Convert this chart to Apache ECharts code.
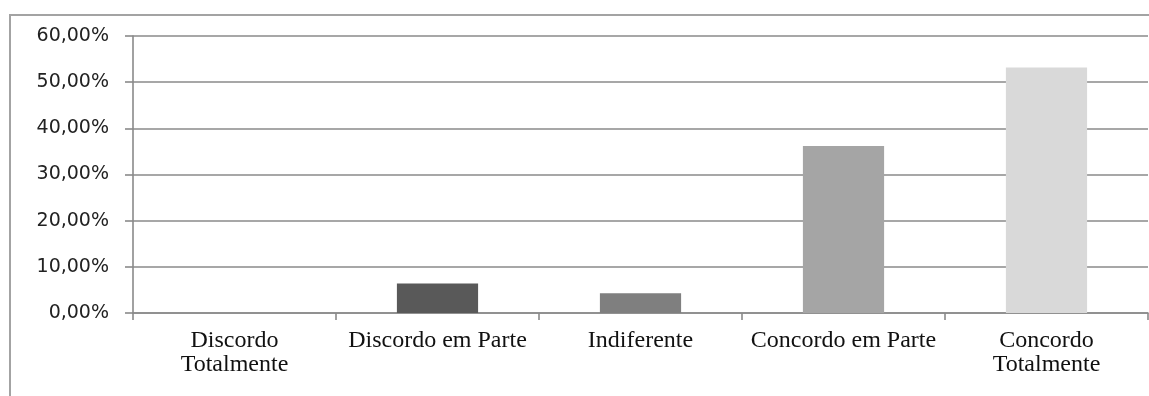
<!DOCTYPE html>
<html>
<head>
<meta charset="utf-8">
<script src="https://cdn.jsdelivr.net/npm/echarts@6/dist/echarts.min.js"></script>
<style>
  html, body { margin: 0; padding: 0; background: #ffffff; }
  #chart { width: 1149px; height: 396px; }
</style>
</head>
<body>
<div id="chart"></div>
<script>
// Survey answers (share of respondents, %)
const categories = ['Discordo\nTotalmente', 'Discordo em Parte', 'Indiferente', 'Concordo em Parte', 'Concordo\nTotalmente'];
const shares = [0, 6.38, 4.26, 36.17, 53.19];
const barColors = ['#3f3f3f', '#595959', '#7f7f7f', '#a5a5a5', '#d9d9d9'];
const yTicks = { min: 0, max: 60, interval: 10 };

const fmtPct = v => v.toFixed(2).replace('.', ',') + '%';

const chart = echarts.init(document.getElementById('chart'), null, { renderer: 'canvas' });

chart.setOption({
  animation: false,
  backgroundColor: '#ffffff',
  graphic: [{
    type: 'rect',
    silent: true,
    z: -1,
    shape: { x: 10, y: 15, width: 1300, height: 600 },
    style: { fill: 'none', stroke: '#a3a3a3', lineWidth: 2 }
  }],
  grid: { left: 133, right: 1, top: 36, bottom: 83, containLabel: false },
  xAxis: {
    type: 'category',
    data: categories,
    boundaryGap: true,
    axisLine: { show: true, lineStyle: { color: '#8a8a8a', width: 1.6 } },
    axisTick: { show: true, length: 7, alignWithLabel: false, lineStyle: { color: '#8a8a8a', width: 1.6 } },
    axisLabel: {
      interval: 0,
      margin: 16,
      color: '#111111',
      fontFamily: '"Liberation Serif", "Times New Roman", serif',
      fontSize: 24,
      lineHeight: 24,
      align: 'center'
    }
  },
  yAxis: {
    type: 'value',
    min: yTicks.min,
    max: yTicks.max,
    interval: yTicks.interval,
    axisLine: { show: true, lineStyle: { color: '#8a8a8a', width: 1.6 } },
    axisTick: { show: true, length: 8, lineStyle: { color: '#8a8a8a', width: 1.6 } },
    splitLine: { show: true, lineStyle: { color: '#8a8a8a', width: 1.6 } },
    axisLabel: {
      margin: 24,
      color: '#222222',
      fontFamily: '"DejaVu Sans", Verdana, sans-serif',
      fontSize: 19,
      formatter: fmtPct
    }
  },
  series: [{
    type: 'bar',
    barWidth: '40%',
    data: shares.map((v, i) => ({ value: v, itemStyle: { color: barColors[i] } }))
  }]
});
</script>
</body>
</html>
